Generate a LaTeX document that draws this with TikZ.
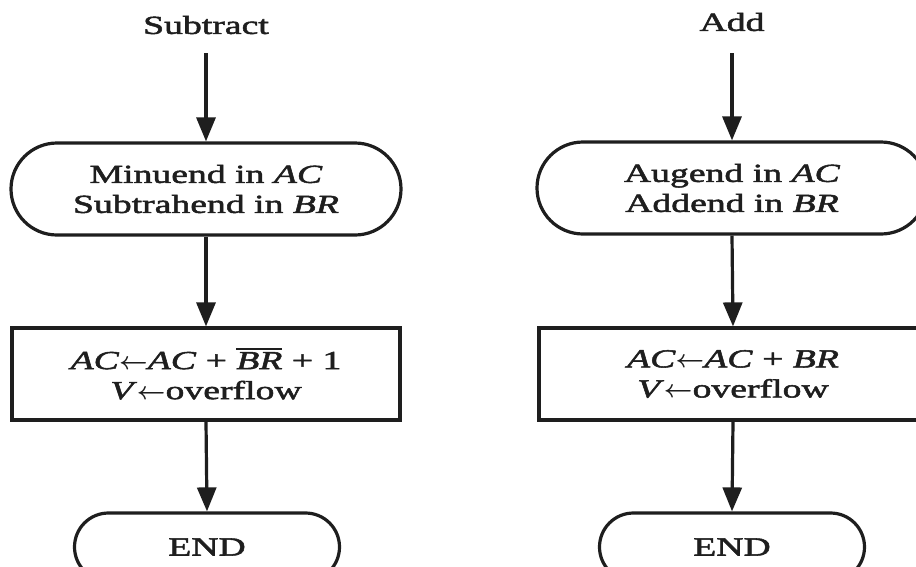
\documentclass[tikz,border=0pt]{standalone}
\usepackage{fontspec}
\setmainfont{Liberation Serif}[FakeStretch=1.45,FakeBold=2]
\usetikzlibrary{arrows.meta,shapes.misc}
\definecolor{ink}{HTML}{1E1E1E}
% heavy bar over a register name (complement)
\newcommand\ovbar[1]{\setbox0\hbox{#1}\vbox{\hrule height 1.8pt\kern 1.8pt\box0}}
% transfer arrow inside register statements
\newcommand\asgn{{\boldmath$\mathord{\leftarrow}$}}
\tikzset{
  every node/.style={font=\fontsize{26}{30}\selectfont, text=ink},
  lbl/.style={inner sep=0pt},
  flowline/.style={line width=3.2pt, draw=ink, -{Triangle[length=24pt,width=19pt]}},
  terminal/.style={draw=ink, line width=3.2pt, rounded rectangle,
    minimum width=#1, minimum height=92pt, align=center, inner sep=0pt},
  endbox/.style={draw=ink, line width=3.2pt, rounded rectangle,
    minimum width=265pt, minimum height=68pt, inner sep=0pt},
  opbox/.style={draw=ink, line width=3.2pt, rectangle,
    minimum width=388pt, minimum height=92pt, align=center, inner sep=0pt}
}
\begin{document}
\begin{tikzpicture}[x=1pt, y=-1pt]
  \useasboundingbox (0,0) rectangle (916,566);
  \fill[white] (0,0) rectangle (916,566);
  \clip (0,0) rectangle (916,566);

  % subtraction flow
  \node[lbl] (sub) at (206,25) {Subtract};
  \node[terminal=390pt] (sin) at (206,189) {Minuend in \textit{AC}\\Subtrahend in \textit{BR}};
  \node[opbox] (sop) at (206,374) {\textit{AC}\asgn\textit{AC} + \ovbar{\textit{BR}} + 1\\\textit{V}\asgn overflow};
  \node[endbox] (send) at (207,547) {END};
  \draw[flowline] ([yshift=-19pt]sub.south) -- (sin.north);
  \draw[flowline] (sin.south) -- (sop.north);
  \draw[flowline] (sop.south) -- (send.north);

  % addition flow
  \node[lbl] (add) at (732,22) {Add};
  \node[terminal=390pt] (ain) at (732,188) {Augend in \textit{AC}\\Addend in \textit{BR}};
  \node[opbox] (aop) at (733,374) {\textit{AC}\asgn\textit{AC} + \textit{BR}\\\textit{V}\asgn overflow};
  \node[endbox] (aend) at (732,547) {END};
  \draw[flowline] ([yshift=-22pt]add.south) -- (ain.north);
  \draw[flowline] (ain.south) -- (aop.north);
  \draw[flowline] (aop.south) -- (aend.north);
\end{tikzpicture}
\end{document}
